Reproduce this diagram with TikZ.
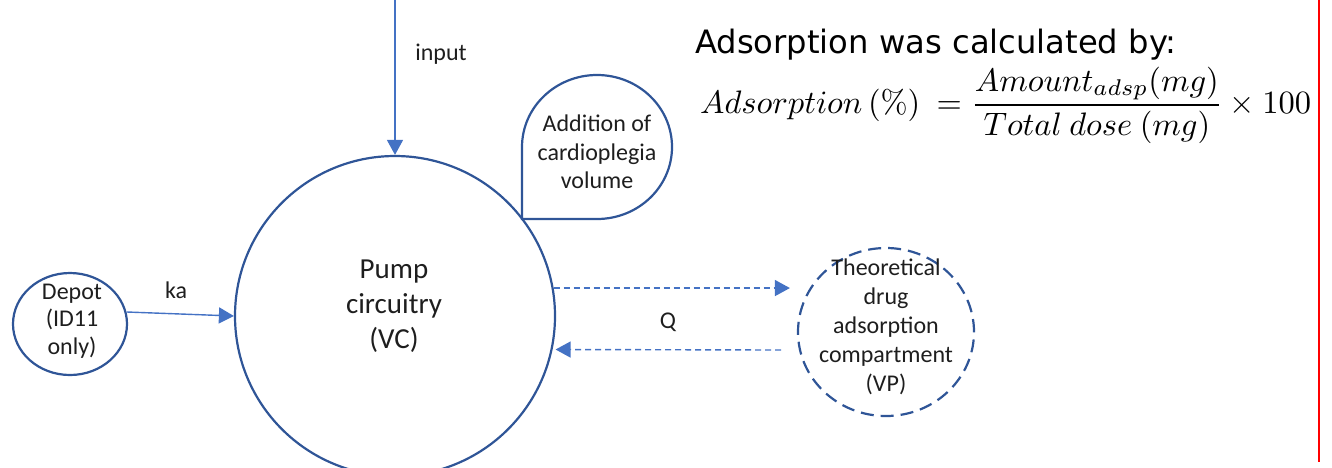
\documentclass[tikz,border=0pt]{standalone}
\usepackage{fontspec}
\usepackage{graphicx}
\setmainfont{Carlito}
\newfontfamily\headfont{DejaVu Sans}
\newfontfamily\lmfont{Latin Modern Roman}
\usetikzlibrary{arrows.meta,shapes.geometric}
\definecolor{cdark}{RGB}{47,85,151}
\definecolor{carrow}{RGB}{68,114,196}
\definecolor{ctext}{RGB}{30,30,30}
\begin{document}
\begin{tikzpicture}[x=1pt,y=-1pt,
  comp/.style={draw=cdark, line width=2.2pt, inner sep=0pt},
  lbl/.style={text=ctext, font=\fontsize{24}{28.5}\selectfont, align=center, inner sep=0pt},
  arr/.style={draw=carrow, line width=1.4pt, -{Triangle[length=15pt,width=16pt]}},
  darr/.style={arr, dash pattern=on 6pt off 4pt}]
\useasboundingbox (0,0) rectangle (1332,467);
\clip (0,0) rectangle (1332,467);
% compartments
\node[comp, circle, minimum size=320pt] (pump) at (395,316) {};
\node[comp, ellipse, minimum width=114pt, minimum height=102pt] (depot) at (70,324) {};
\node[comp, ellipse, minimum width=176pt, minimum height=168pt, dash pattern=on 13pt off 7pt] (vp) at (886,332) {};
% callout
\draw[comp] (522,147) -- (522,219) -- (597,219) arc[start angle=90, end angle=-180, x radius=75, y radius=72] -- cycle;
% texts
\node[lbl, font=\fontsize{29}{35}\selectfont] (pumptxt) at (394,306) {Pump\\circuitry\\(VC)};
\node[lbl, font=\fontsize{24}{27.5}\selectfont] (depottxt) at (72,321) {Depot\\(ID11\\only)};
\node[lbl] (cardio) at (597,152) {Addition of\\cardioplegia\\volume};
\node[lbl, font=\fontsize{24}{29}\selectfont] (vptxt) at (886,327) {Theoretical\\drug\\adsorption\\compartment\\(VP)};
% connectors
\coordinate (inTop) at (395,0);
\draw[arr] (inTop) -- (pump.north);
\node[lbl, anchor=base] (inlbl) at (441,60) {input};
\draw[arr] (depot.12) -- (pump.west);
\node[lbl] (kalbl) at (176,290) {ka};
\draw[darr, shorten >=7pt] (pump.10) -- (pump.10 -| vp.west);
\coordinate (qs) at (781,350);
\draw[darr, shorten >=3pt] (qs) -- (pump.-12);
\node[lbl] (qlbl) at (668,322) {Q};
% formula
\node[anchor=base west, inner sep=0pt, font=\headfont\fontsize{32.2}{38}\selectfont] (head) at (695,53) {Adsorption was calculated by:};
\node[anchor=base west, inner sep=0pt] (formula) at (700,113) {\scalebox{3.25}{$\displaystyle Adsorption\,(\hbox{\lmfont\%})\ =\frac{Amount_{adsp}(mg)}{Total\ dose\ (mg)}\times 100$}};
% red margin line
\draw[red, line width=2pt] (1319,0) -- (1319,462);
\end{tikzpicture}
\end{document}
